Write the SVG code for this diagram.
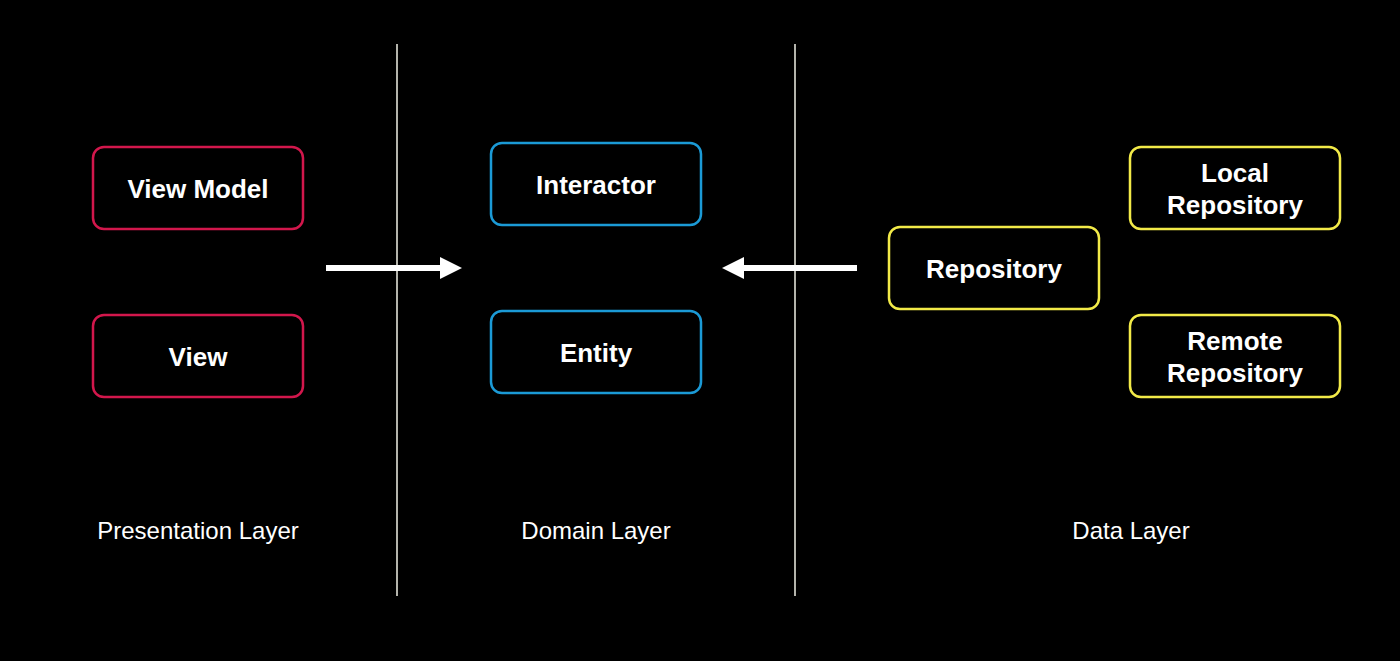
<svg xmlns="http://www.w3.org/2000/svg" width="1400" height="661" viewBox="0 0 1400 661">
<style>
.box{fill:#000;stroke-width:2.5}
.red{stroke:#d2174c}
.blue{stroke:#1b9ad6}
.yel{stroke:#f2ea48}
.t{font-family:"Liberation Sans",Arial,sans-serif;font-weight:bold;font-size:26px;fill:#fff;text-anchor:middle}
.lbl{font-family:"Liberation Sans",Arial,sans-serif;font-size:24px;fill:#fff;text-anchor:middle}
.sep{stroke:#b4b4ac;stroke-width:2}
.arr{stroke:#fff;stroke-width:6;fill:none}
</style>
<defs>
<marker id="ah" markerWidth="22" markerHeight="22" refX="0" refY="11" orient="auto" markerUnits="userSpaceOnUse">
<path d="M0,0 L22,11 L0,22 Z" fill="#fff"/>
</marker>
</defs>
<rect width="1400" height="661" fill="#000"/>
<line class="sep" x1="397" y1="44" x2="397" y2="596"/>
<line class="sep" x1="795" y1="44" x2="795" y2="596"/>
<g id="connectors">
<line class="arr" x1="326" y1="268" x2="440" y2="268" marker-end="url(#ah)"/>
<line class="arr" x1="857" y1="268" x2="744" y2="268" marker-end="url(#ah)"/>
</g>
<g id="viewmodel"><rect class="box red" x="93" y="147" width="210" height="82" rx="11"/><text class="t" x="198" y="198">View Model</text></g>
<g id="view"><rect class="box red" x="93" y="315" width="210" height="82" rx="11"/><text class="t" x="198" y="366">View</text></g>
<g id="interactor"><rect class="box blue" x="491" y="143" width="210" height="82" rx="11"/><text class="t" x="596" y="194">Interactor</text></g>
<g id="entity"><rect class="box blue" x="491" y="311" width="210" height="82" rx="11"/><text class="t" x="596" y="362">Entity</text></g>
<g id="repository"><rect class="box yel" x="889" y="227" width="210" height="82" rx="11"/><text class="t" x="994" y="278">Repository</text></g>
<g id="localrepo"><rect class="box yel" x="1130" y="147" width="210" height="82" rx="11"/><text class="t" x="1235" y="182">Local</text><text class="t" x="1235" y="214">Repository</text></g>
<g id="remoterepo"><rect class="box yel" x="1130" y="315" width="210" height="82" rx="11"/><text class="t" x="1235" y="350">Remote</text><text class="t" x="1235" y="382">Repository</text></g>
<text class="lbl" x="198" y="539">Presentation Layer</text>
<text class="lbl" x="596" y="539">Domain Layer</text>
<text class="lbl" x="1131" y="539">Data Layer</text>
</svg>
